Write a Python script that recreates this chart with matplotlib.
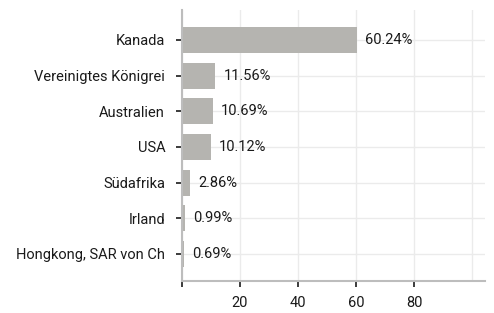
import matplotlib.pyplot as plt

countries = ['Kanada', 'Vereinigtes Königrei', 'Australien', 'USA',
             'Südafrika', 'Irland', 'Hongkong, SAR von Ch']
shares = [60.24, 11.56, 10.69, 10.12, 2.86, 0.99, 0.69]
xticks = [0, 20, 40, 60, 80]
xtick_labels = ['', '20', '40', '60', '80']

plt.rcParams['font.family'] = ['Roboto', 'DejaVu Sans']

fig = plt.figure(figsize=(4.94, 3.13), dpi=100)
ax = fig.add_axes([0.368, 0.102, 0.614, 0.866])

y = list(range(len(countries)))
ax.barh(y, shares, height=0.73, color='#b5b4b0', zorder=2)
for yi, v in zip(y, shares):
    ax.text(v + 2.8, yi, f'{v:.2f}%', va='center', ha='left',
            fontsize=10.5, color='#1a1a1a', zorder=3)

ax.set_xlim(0, 104.5)
ax.set_ylim(6.76, -0.84)
ax.set_yticks(y)
ax.set_yticklabels(countries, fontsize=10.5, color='#1a1a1a')
ax.set_xticks(xticks)
ax.set_xticklabels(xtick_labels, fontsize=10.5, color='#1a1a1a')
ax.set_xticks([100], minor=True)

ax.grid(True, which='both', axis='x', color='#ebebeb', linewidth=1, zorder=0)
ax.grid(True, axis='y', color='#ebebeb', linewidth=1, zorder=0)
ax.tick_params(axis='x', which='minor', length=0)
ax.tick_params(axis='y', which='major', length=4, width=1.2, color='#1a1a1a', pad=8)
ax.tick_params(axis='x', which='major', length=4, width=1.2, color='#1a1a1a', pad=7)

for s in ['top', 'right']:
    ax.spines[s].set_visible(False)
ax.spines['left'].set_color('#bdbdbd')
ax.spines['bottom'].set_color('#bdbdbd')
ax.spines['left'].set_linewidth(1.5)
ax.spines['bottom'].set_linewidth(1.5)

fig.savefig('out.png', dpi=100)
